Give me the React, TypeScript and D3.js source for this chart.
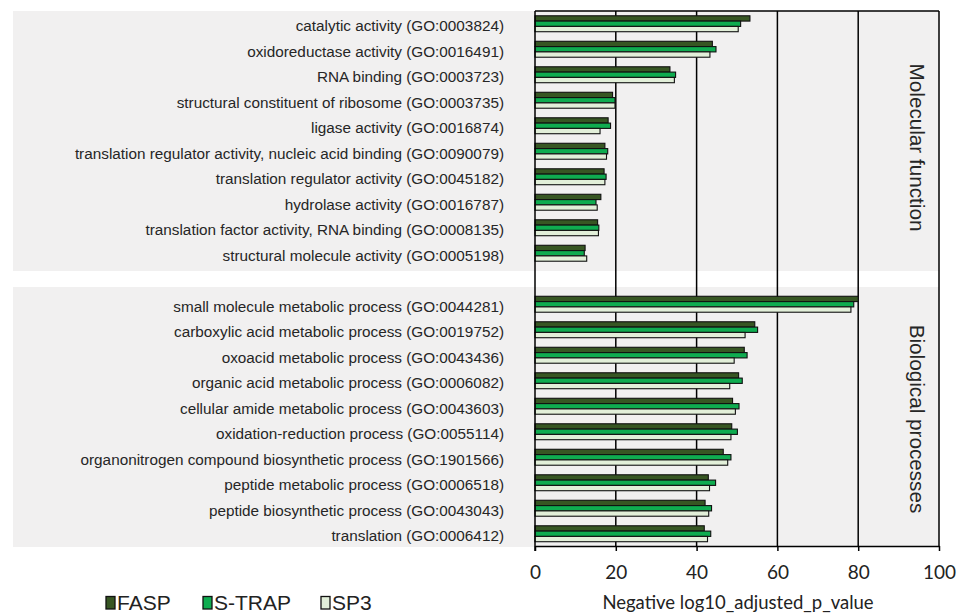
import React, { useEffect, useRef } from "react";
import * as d3 from "d3";

const mfCategories = [
  "catalytic activity (GO:0003824)",
  "oxidoreductase activity (GO:0016491)",
  "RNA binding (GO:0003723)",
  "structural constituent of ribosome (GO:0003735)",
  "ligase activity (GO:0016874)",
  "translation regulator activity, nucleic acid binding (GO:0090079)",
  "translation regulator activity (GO:0045182)",
  "hydrolase activity (GO:0016787)",
  "translation factor activity, RNA binding (GO:0008135)",
  "structural molecule activity (GO:0005198)",
];
const bpCategories = [
  "small molecule metabolic process (GO:0044281)",
  "carboxylic acid metabolic process (GO:0019752)",
  "oxoacid metabolic process (GO:0043436)",
  "organic acid metabolic process (GO:0006082)",
  "cellular amide metabolic process (GO:0043603)",
  "oxidation-reduction process (GO:0055114)",
  "organonitrogen compound biosynthetic process (GO:1901566)",
  "peptide metabolic process (GO:0006518)",
  "peptide biosynthetic process (GO:0043043)",
  "translation (GO:0006412)",
];
const seriesNames = ["FASP", "S-TRAP", "SP3"];
const seriesColors = ["#375623", "#0fac50", "#e2efd9"];

const faspMF = [53.2, 43.9, 33.4, 19.2, 18.1, 17.3, 17.1, 16.3, 15.5, 12.4];
const strapMF = [50.9, 44.8, 34.8, 19.8, 18.7, 18.0, 17.6, 15.1, 15.8, 12.2];
const sp3MF = [50.3, 43.3, 34.5, 19.8, 16.1, 17.7, 17.3, 15.4, 15.7, 12.8];

const faspBP = [80.0, 54.4, 51.8, 50.4, 48.9, 48.7, 46.6, 42.9, 42.1, 41.9];
const strapBP = [78.9, 55.1, 52.5, 51.3, 50.5, 50.1, 48.5, 44.7, 43.7, 43.5];
const sp3BP = [78.2, 52.0, 49.3, 48.2, 49.6, 48.5, 47.7, 43.2, 43.0, 42.7];

const xTicks = [0, 20, 40, 60, 80, 100];
const panelTitles = ["Molecular function", "Biological processes"];
const axisTitle = "Negative log10_adjusted_p_value";

const W = 960;
const H = 614;

export default function App() {
  const ref = useRef<SVGSVGElement | null>(null);

  useEffect(() => {
    const svg = d3.select(ref.current);
    svg.selectAll("*").remove();

    const GAP = "__gap__";
    const slots = [...mfCategories, GAP, ...bpCategories];
    const x = d3.scaleLinear().domain([0, 100]).range([535, 939]);
    const y = d3.scaleBand<string>().domain(slots).range([11, 546.5]).padding(0);
    const y1 = d3
      .scaleBand<string>()
      .domain(seriesNames)
      .range([0, y.bandwidth()])
      .paddingInner(0)
      .paddingOuter(0.9);

    const rows = [
      ...mfCategories.map((c, i) => ({ cat: c, vals: [faspMF[i], strapMF[i], sp3MF[i]] })),
      ...bpCategories.map((c, i) => ({ cat: c, vals: [faspBP[i], strapBP[i], sp3BP[i]] })),
    ];

    const sansFont = "'Liberation Sans', Arial, sans-serif";
    const calFont = "Lato, 'Open Sans', sans-serif";

    // gray panels
    const bg = "#f1f0f0";
    const topStart = y(mfCategories[0])!;
    const topEnd = y(GAP)! + 5;
    const botStart = y(bpCategories[0])! - 4.5;
    const botEnd = y(bpCategories[bpCategories.length - 1])! + y.bandwidth() + 0.5;
    svg.append("rect").attr("x", 13).attr("y", topStart).attr("width", x(100) - 13).attr("height", topEnd - topStart).attr("fill", bg);
    svg.append("rect").attr("x", 13).attr("y", botStart).attr("width", x(100) - 13).attr("height", botEnd - botStart).attr("fill", bg);

    const yTop = 11;
    const yBot = 546;

    // grid lines
    svg
      .selectAll("line.grid")
      .data([20, 40, 60, 80, 100])
      .join("line")
      .attr("x1", (d) => x(d))
      .attr("x2", (d) => x(d))
      .attr("y1", yTop)
      .attr("y2", yBot)
      .attr("stroke", "#000")
      .attr("stroke-width", 1.5);

    // top border
    svg.append("line").attr("x1", x(0)).attr("x2", x(100)).attr("y1", yTop).attr("y2", yTop).attr("stroke", "#000").attr("stroke-width", 1.5);

    // bars
    const g = svg.append("g");
    rows.forEach((r) => {
      const y0 = y(r.cat)!;
      r.vals.forEach((v, si) => {
        g.append("rect")
          .attr("x", x(0))
          .attr("y", y0 + y1(seriesNames[si])!)
          .attr("width", x(v) - x(0))
          .attr("height", y1.bandwidth())
          .attr("fill", seriesColors[si])
          .attr("stroke", "#111")
          .attr("stroke-width", 1.1);
      });
    });

    // left axis line
    svg.append("line").attr("x1", x(0)).attr("x2", x(0)).attr("y1", yTop).attr("y2", yBot + 5).attr("stroke", "#000").attr("stroke-width", 1.5);

    // bottom axis
    const axis = d3.axisBottom(x).tickValues(xTicks).tickSize(5).tickSizeOuter(0).tickPadding(15);
    const ax = svg.append("g").attr("transform", `translate(0,${yBot})`).call(axis);
    ax.select(".domain").attr("stroke", "#000").attr("stroke-width", 1.5);
    ax.selectAll(".tick line").attr("stroke", "#000").attr("stroke-width", 1.5);
    ax.selectAll(".tick text")
      .attr("font-family", calFont)
      .attr("font-size", 19)
      .attr("fill", "#222");

    // category labels
    svg
      .selectAll("text.cat")
      .data(rows)
      .join("text")
      .attr("class", "cat")
      .attr("x", 504)
      .attr("y", (d) => y(d.cat)! + y.bandwidth() / 2 + 2)
      .attr("dy", "0.35em")
      .attr("text-anchor", "end")
      .attr("font-family", sansFont)
      .attr("font-size", 15.3)
      .attr("fill", "#262626")
      .text((d) => d.cat);

    // panel titles
    const centers = [
      (y(mfCategories[0])! + y(mfCategories[9])! + y.bandwidth()) / 2 + 9,
      (y(bpCategories[0])! + y(bpCategories[9])! + y.bandwidth()) / 2,
    ];
    panelTitles.forEach((t, i) => {
      svg
        .append("text")
        .attr("transform", `translate(910,${centers[i]}) rotate(90)`)
        .attr("text-anchor", "middle")
        .attr("font-family", sansFont)
        .attr("font-size", 20.7)
        .attr("fill", "#262626")
        .text(t);
    });

    // axis title
    svg
      .append("text")
      .attr("x", 738)
      .attr("y", 609)
      .attr("text-anchor", "middle")
      .attr("font-family", calFont)
      .attr("font-size", 18.5)
      .attr("fill", "#222")
      .text(axisTitle);

    // legend
    const legendX = [106, 203, 321];
    seriesNames.forEach((s, i) => {
      svg
        .append("rect")
        .attr("x", legendX[i])
        .attr("y", 596.5)
        .attr("width", 9)
        .attr("height", 12.5)
        .attr("fill", seriesColors[i])
        .attr("stroke", "#111")
        .attr("stroke-width", 1.3);
      svg
        .append("text")
        .attr("x", legendX[i] + 11)
        .attr("y", 609.5)
        .attr("font-family", sansFont)
        .attr("font-size", 21)
        .attr("fill", "#222")
        .text(s);
    });
  }, []);

  return (
    <div style={{ position: "fixed", left: 0, top: 0, width: W, height: H, background: "#fff" }}>
      <svg ref={ref} width={W} height={H} style={{ display: "block" }} />
    </div>
  );
}
